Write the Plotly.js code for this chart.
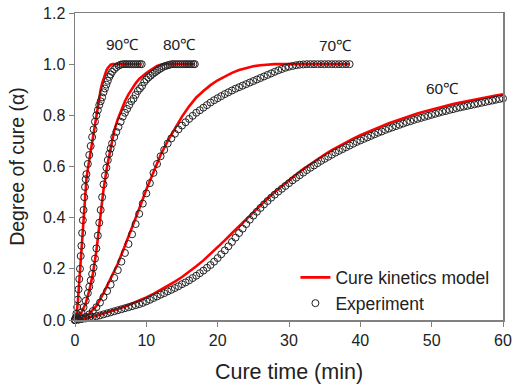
<!DOCTYPE html>
<html>
<head>
<meta charset="utf-8">
<script src="https://cdn.plot.ly/plotly-3.0.1.min.js"></script>
<style>html,body{margin:0;padding:0;background:#fff;}#chart{width:513px;height:389px;}</style>
</head>
<body>
<div id="chart"></div>
<script>
// ---- Model curves (Cure kinetics model) ----
const model90T = [0,0.2,0.4,0.6,0.8,1.0,1.2,1.4,1.6,1.8,2.0,2.2,2.4,2.6,2.8,3.0,3.2,3.4,3.6,3.8,4.0,4.2,4.4,4.6,4.8,5.0,5.3,6,7,8,9.3];
const model90A = [0,0.02,0.07,0.15,0.24,0.33,0.42,0.50,0.55,0.59,0.625,0.66,0.70,0.735,0.77,0.805,0.84,0.87,0.90,0.925,0.945,0.96,0.975,0.985,0.993,0.998,1.0,1.0,1.0,1.0,1.0];

const model80T = [0,0.5,1.0,1.5,2.0,2.5,3.0,3.5,4.0,4.5,5.0,5.5,6.0,6.5,7.0,7.5,8.0,8.5,9.0,9.5,10.0,10.5,11.0,11.5,12.0,12.5,14,16.8];
const model80A = [0,0.01,0.035,0.065,0.115,0.18,0.27,0.39,0.51,0.60,0.675,0.74,0.785,0.82,0.855,0.882,0.905,0.925,0.942,0.955,0.965,0.975,0.985,0.993,0.998,1.0,1.0,1.0];

const model70T = [0,1,2,3,4,5,6,7,8,9,10,11,12,13,14,15,16,17,18,19,20,21,22,23,24,25,26,27,28,30,34,38.5];
const model70A = [0,0.008,0.025,0.055,0.105,0.16,0.22,0.29,0.36,0.435,0.51,0.58,0.645,0.70,0.75,0.795,0.835,0.87,0.895,0.918,0.937,0.953,0.966,0.977,0.986,0.992,0.996,0.999,1.0,1.0,1.0,1.0];

const model60T = [0,1,2,3,4,5,6,7,8,9,10,11,12,13,14,15,16,17,18,19,20,21,22,23,24,25,26,27,28,29,30,31,32,33,34,35,36,37,38,39,40,41,42,43,44,45,46,47,48,49,50,51,52,53,54,55,56,57,58,59,60];
const model60A = [0,0.004,0.01,0.017,0.025,0.034,0.043,0.053,0.064,0.075,0.088,0.102,0.117,0.133,0.15,0.168,0.188,0.21,0.233,0.258,0.284,0.311,0.339,0.367,0.395,0.422,0.449,0.475,0.5,0.524,0.547,0.569,0.59,0.61,0.629,0.647,0.664,0.68,0.695,0.709,0.722,0.735,0.747,0.758,0.769,0.779,0.789,0.798,0.807,0.815,0.823,0.83,0.837,0.844,0.85,0.856,0.862,0.867,0.872,0.877,0.882];

// ---- Experimental data ----
const exp90T = [0,0.1,0.2,0.3,0.4,0.5,0.6,0.7,0.8,0.9,1.0,1.1,1.2,1.3,1.4,1.5,1.6,1.8,2.0,2.2,2.4,2.6,2.8,3.0,3.2,3.4,3.6,3.8,4.0,4.2,4.4,4.6,4.8,5.0,5.2,5.5,5.8,6.1,6.4,6.7,7.0,7.3,7.6,7.9,8.2,8.5,8.8,9.1,9.35];
const exp90A = [0,0.01,0.025,0.05,0.08,0.12,0.16,0.20,0.25,0.29,0.34,0.39,0.43,0.48,0.52,0.55,0.57,0.61,0.645,0.68,0.715,0.745,0.775,0.80,0.82,0.84,0.855,0.87,0.89,0.905,0.92,0.935,0.95,0.96,0.97,0.98,0.988,0.994,0.998,1.0,1.0,1.0,1.0,1.0,1.0,1.0,1.0,1.0,1.0];

const exp80T = [0,0.3,0.6,0.9,1.2,1.5,1.8,2.0,2.2,2.4,2.6,2.8,3.0,3.2,3.4,3.6,3.8,4.0,4.2,4.4,4.6,4.8,5.0,5.2,5.5,5.8,6.1,6.4,6.7,7.0,7.3,7.6,7.9,8.2,8.5,8.8,9.1,9.4,9.7,10.0,10.3,10.6,10.9,11.2,11.5,11.8,12.1,12.4,12.7,13.0,13.3,13.6,13.9,14.2,14.5,14.8,15.1,15.4,15.7,16.0,16.3,16.6,16.8];
const exp80A = [0,0.005,0.015,0.03,0.05,0.075,0.105,0.13,0.155,0.18,0.205,0.24,0.28,0.33,0.38,0.43,0.48,0.53,0.565,0.595,0.625,0.65,0.67,0.69,0.715,0.735,0.755,0.775,0.795,0.81,0.825,0.84,0.855,0.865,0.88,0.895,0.905,0.915,0.93,0.94,0.948,0.955,0.962,0.968,0.974,0.98,0.985,0.99,0.993,0.996,0.998,1.0,1.0,1.0,1.0,1.0,1.0,1.0,1.0,1.0,1.0,1.0,1.0];

const exp70T = [0,0.5,1.0,1.5,2.0,2.5,3.0,3.5,4.0,4.5,5.0,5.5,6.0,6.5,7.0,7.5,8.0,8.5,9.0,9.5,10.0,10.5,11.0,11.5,12.0,12.5,13.0,13.5,14.0,14.5,15.0,15.5,16.0,16.5,17.0,17.5,18.0,18.5,19.0,19.5,20.0,20.5,21.0,21.5,22.0,22.5,23.0,23.5,24.0,24.5,25.0,25.5,26.0,26.5,27.0,27.5,28.0,28.5,29.0,29.5,30.0,30.5,31.0,31.5,32.0,32.5,33.0,33.5,34.0,34.5,35.0,35.5,36.0,36.5,37.0,37.5,38.0,38.5];
const exp70A = [0,0.002,0.006,0.012,0.022,0.035,0.05,0.068,0.09,0.113,0.138,0.165,0.195,0.228,0.262,0.297,0.335,0.375,0.415,0.455,0.495,0.535,0.575,0.61,0.64,0.665,0.69,0.71,0.728,0.745,0.76,0.773,0.786,0.798,0.81,0.82,0.83,0.84,0.85,0.859,0.867,0.875,0.883,0.89,0.897,0.904,0.91,0.916,0.922,0.928,0.934,0.94,0.946,0.952,0.958,0.964,0.97,0.976,0.981,0.986,0.99,0.993,0.996,0.998,0.999,1.0,1.0,1.0,1.0,1.0,1.0,1.0,1.0,1.0,1.0,1.0,1.0,1.0];

const exp60T = [0,0.5,1,1.5,2,2.5,3,3.5,4,4.5,5,5.5,6,6.5,7,7.5,8,8.5,9,9.5,10,10.5,11,11.5,12,12.5,13,13.5,14,14.5,15,15.5,16,16.5,17,17.5,18,18.5,19,19.5,20,20.5,21,21.5,22,22.5,23,23.5,24,24.5,25,25.5,26,26.5,27,27.5,28,28.5,29,29.5,30,30.5,31,31.5,32,32.5,33,33.5,34,34.5,35,35.5,36,36.5,37,37.5,38,38.5,39,39.5,40,40.5,41,41.5,42,42.5,43,43.5,44,44.5,45,45.5,46,46.5,47,47.5,48,48.5,49,49.5,50,50.5,51,51.5,52,52.5,53,53.5,54,54.5,55,55.5,56,56.5,57,57.5,58,58.5,59,59.5,60];
const exp60A = [0,0.002,0.004,0.006,0.009,0.012,0.015,0.018,0.022,0.026,0.030,0.034,0.038,0.042,0.046,0.050,0.054,0.058,0.062,0.067,0.073,0.079,0.086,0.092,0.099,0.105,0.112,0.118,0.125,0.132,0.140,0.147,0.155,0.164,0.173,0.183,0.193,0.204,0.215,0.228,0.242,0.257,0.272,0.288,0.305,0.322,0.340,0.357,0.375,0.392,0.408,0.423,0.438,0.452,0.465,0.478,0.490,0.502,0.513,0.524,0.535,0.546,0.556,0.566,0.576,0.586,0.595,0.604,0.613,0.622,0.630,0.638,0.646,0.654,0.661,0.668,0.675,0.682,0.689,0.696,0.702,0.708,0.714,0.720,0.726,0.732,0.737,0.743,0.748,0.753,0.758,0.763,0.768,0.773,0.777,0.782,0.786,0.790,0.794,0.798,0.802,0.806,0.810,0.814,0.817,0.821,0.824,0.828,0.831,0.834,0.837,0.840,0.843,0.846,0.849,0.852,0.855,0.858,0.861,0.864,0.866];

// ---- Labels ----
const tempLabels = ['90℃','80℃','70℃','60℃'];
const tempLabelX = [6.6, 14.7, 36.5, 51.5];
const tempLabelY = [1.078, 1.078, 1.074, 0.905];
const seriesNames = ['Cure kinetics model', 'Experiment'];

const FONT = 'Liberation Sans, Arial, sans-serif';
const modelSets = [[model90T,model90A],[model80T,model80A],[model70T,model70A],[model60T,model60A]];
const expSets = [[exp90T,exp90A],[exp80T,exp80A],[exp70T,exp70A],[exp60T,exp60A]];

const traces = [];
modelSets.forEach((s,i)=>{
  traces.push({x:s[0], y:s[1], type:'scatter', mode:'lines', name:seriesNames[0],
    legendgroup:'model', showlegend:i===0, cliponaxis:false,
    line:{color:'#ff0000', width:2.6}});
});
expSets.forEach((s,i)=>{
  traces.push({x:s[0], y:s[1], type:'scatter', mode:'markers', name:seriesNames[1],
    legendgroup:'exp', showlegend:i===0, cliponaxis:false,
    marker:{symbol:'circle-open', size:7, color:'#222', line:{width:1, color:'#222'}}});
});

const annotations = tempLabels.map((t,i)=>({x:tempLabelX[i], y:tempLabelY[i], xref:'x', yref:'y',
  text:t, showarrow:false, font:{family:FONT, size:15.5, color:'#222'}}));

const layout = {
  width:513, height:389,
  margin:{l:75, r:10, t:13, b:69},
  paper_bgcolor:'#fff', plot_bgcolor:'#fff',
  font:{family:FONT, color:'#222'},
  showlegend:true,
  legend:{x:0.515, y:0.197, xanchor:'left', yanchor:'top', bgcolor:'rgba(0,0,0,0)',
    font:{family:FONT, size:17.5, color:'#222'}, tracegroupgap:0},
  xaxis:{range:[0,60], tickvals:[0,10,20,30,40,50,60], showgrid:false, zeroline:false,
    showline:true, linecolor:'#808080', linewidth:1.5, mirror:true,
    ticks:'outside', ticklen:5, tickcolor:'#808080', tickwidth:1,
    tickfont:{family:FONT, size:16, color:'#222'},
    title:{text:'Cure time (min)', font:{family:FONT, size:21.5, color:'#222'}, standoff:16}},
  yaxis:{range:[0,1.2], tickvals:[0,0.2,0.4,0.6,0.8,1.0,1.2], tickformat:'.1f', showgrid:false, zeroline:false,
    showline:true, linecolor:'#808080', linewidth:1.5, mirror:true,
    ticks:'outside', ticklen:5, tickcolor:'#808080', tickwidth:1,
    tickfont:{family:FONT, size:16, color:'#222'},
    title:{text:'Degree of cure (α)', font:{family:FONT, size:19.5, color:'#222'}, standoff:13}},
  annotations:annotations
};

Plotly.newPlot('chart', traces, layout, {staticPlot:true, displayModeBar:false});
</script>
</body>
</html>
